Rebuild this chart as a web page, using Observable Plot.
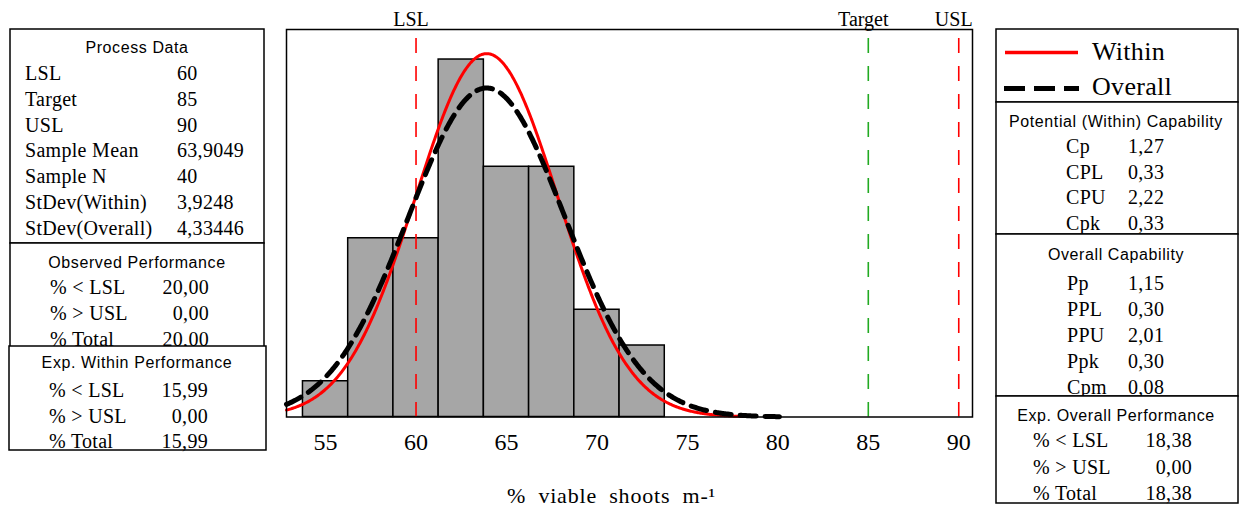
<!DOCTYPE html>
<html><head><meta charset="utf-8">
<script src="https://cdn.jsdelivr.net/npm/d3@7"></script>
<script src="https://cdn.jsdelivr.net/npm/@observablehq/plot@0.6"></script>
<style>
html,body{margin:0;padding:0;background:#fff;}
body{width:1239px;height:506px;overflow:hidden;position:relative;}
#chart{position:absolute;left:0;top:0;}
#panels{position:absolute;left:0;top:0;pointer-events:none;}
</style></head><body>
<div id="chart"></div>
<svg id="panels" width="1239" height="506"></svg>
<script>
// ---------- data ----------
const binEdges = [53.75, 56.25, 58.75, 61.25, 63.75, 66.25, 68.75, 71.25, 73.75];
const binCounts = [1, 5, 5, 10, 7, 7, 3, 2];
const specNames = ["LSL", "Target", "USL"];
const specValues = [60, 85, 90];
const specColors = ["#ff0000", "#22aa22", "#ff0000"];
const xTicks = [55, 60, 65, 70, 75, 80, 85, 90];
const xLabel = "% viable shoots m-\u00B9";

const sampleMean = 63.9049;
const sampleN = 40;
const stdevWithin = 3.9248;
const stdevOverall = 4.33446;

const processLabels = ["LSL", "Target", "USL", "Sample Mean", "Sample N", "StDev(Within)", "StDev(Overall)"];
const processValues = ["60", "85", "90", "63,9049", "40", "3,9248", "4,33446"];
const perfLabels = ["% < LSL", "% > USL", "% Total"];
const observedValues = ["20,00", "0,00", "20,00"];
const expWithinValues = ["15,99", "0,00", "15,99"];
const potentialLabels = ["Cp", "CPL", "CPU", "Cpk"];
const potentialValues = ["1,27", "0,33", "2,22", "0,33"];
const overallLabels = ["Pp", "PPL", "PPU", "Ppk", "Cpm"];
const overallValues = ["1,15", "0,30", "2,01", "0,30", "0,08"];
const expOverallValues = ["18,38", "0,00", "18,38"];
const legendNames = ["Within", "Overall"];

// ---------- derived tables ----------
const bars = binCounts.map((c, i) => ({x1: binEdges[i], x2: binEdges[i + 1], count: c}));
const specs = specNames.map((n, i) => ({name: n, value: specValues[i], color: specColors[i]}));
const binWidth = binEdges[1] - binEdges[0];
function normalCurve(sd, x0, x1) {
  const pts = [];
  for (let x = x0; x <= x1 + 1e-9; x += 0.05) {
    const z = (x - sampleMean) / sd;
    pts.push({x, y: sampleN * binWidth * Math.exp(-0.5 * z * z) / (sd * Math.sqrt(2 * Math.PI))});
  }
  return pts;
}
const xDomain = [52.84, 90.76];
const withinCurve = normalCurve(stdevWithin, xDomain[0], 78.4);
const overallCurve = normalCurve(stdevOverall, xDomain[0], 80.1);

const SERIF = "'Liberation Serif', 'Times New Roman', serif";
const SANS = "'Liberation Sans', Arial, sans-serif";

const chart = Plot.plot({
  width: 1239,
  height: 506,
  marginLeft: 286,
  marginRight: 267,
  marginTop: 29,
  marginBottom: 89.5,
  style: {fontFamily: SERIF, fontSize: "24px", color: "#000", background: "transparent", overflow: "visible"},
  x: {domain: xDomain, ticks: xTicks, tickSize: 0, tickPadding: 16, tickFormat: d => String(d), label: null},
  y: {domain: [0, 10.84], axis: null},
  color: {type: "identity"},
  marks: [
    Plot.rectY(bars, {x1: "x1", x2: "x2", y: "count", fill: "#a6a6a6", stroke: "#000", strokeWidth: 1.5}),
    Plot.ruleX(specs, {x: "value", stroke: "color", strokeWidth: 1.6, strokeDasharray: "15,13", insetTop: 9}),
    Plot.line(withinCurve, {x: "x", y: "y", stroke: "#ff0000", strokeWidth: 3}),
    Plot.line(overallCurve, {x: "x", y: "y", stroke: "#000", strokeWidth: 5, strokeDasharray: "16,9"}),
    Plot.frame({stroke: "#000", strokeWidth: 1.5}),
    Plot.text(specs, {x: "value", text: "name", frameAnchor: "top", lineAnchor: "bottom", dy: -4, dx: -5, fontSize: 20, fill: "#000"}),
    Plot.text([xLabel], {text: d => d, frameAnchor: "bottom", lineAnchor: "middle", dy: 79, dx: -18, fontSize: 22, fill: "#000"})
  ]
});
document.getElementById("chart").appendChild(chart);
d3.select(chart).selectAll("text").filter(function() { return this.textContent === xLabel; })
  .attr("word-spacing", "6px").attr("letter-spacing", "0.8px");

// ---------- side panels ----------
const svg = d3.select("#panels");
function box(x, y, w, h) {
  svg.append("rect").attr("x", x).attr("y", y).attr("width", w).attr("height", h)
    .attr("fill", "#fff").attr("stroke", "#000").attr("stroke-width", 1.5);
}
function title(t, x, y) {
  svg.append("text").attr("x", x).attr("y", y).attr("text-anchor", "middle")
    .attr("font-family", SANS).attr("font-size", 16).attr("letter-spacing", "0.6px").attr("fill", "#000").text(t);
}
function serif(t, x, y, anchor = "start", size = 20) {
  svg.append("text").attr("x", x).attr("y", y).attr("text-anchor", anchor)
    .attr("font-family", SERIF).attr("font-size", size).attr("letter-spacing", "0.3px").attr("fill", "#000").text(t);
}

// Process Data
box(10, 29, 254, 214);
title("Process Data", 137, 53);
processLabels.forEach((l, i) => {
  serif(l, 25, 80 + 25.8 * i);
  serif(processValues[i], 177, 80 + 25.8 * i);
});
// Observed Performance
box(10, 243, 254, 120);
title("Observed Performance", 137, 267.5);
perfLabels.forEach((l, i) => {
  serif(l, 50, 294 + 26 * i);
  serif(observedValues[i], 209, 294 + 26 * i, "end");
});
// Exp. Within Performance
box(9, 346, 257, 104);
title("Exp. Within Performance", 137, 368);
perfLabels.forEach((l, i) => {
  serif(l, 49, 397 + 25.5 * i);
  serif(expWithinValues[i], 208, 397 + 25.5 * i, "end");
});

// Legend
box(996, 29, 242, 73);
svg.append("line").attr("x1", 1005).attr("x2", 1078).attr("y1", 52.5).attr("y2", 52.5)
  .attr("stroke", "#ff0000").attr("stroke-width", 3.5);
svg.append("line").attr("x1", 1004).attr("x2", 1079).attr("y1", 88.5).attr("y2", 88.5)
  .attr("stroke", "#000").attr("stroke-width", 5).attr("stroke-dasharray", "21,9");
serif(legendNames[0], 1092, 60, "start", 26);
serif(legendNames[1], 1092, 95, "start", 26);

// Potential (Within) Capability
box(996, 102, 242, 132);
title("Potential (Within) Capability", 1116, 127);
potentialLabels.forEach((l, i) => {
  serif(l, 1066, 153 + 25.7 * i);
  serif(potentialValues[i], 1128, 153 + 25.7 * i);
});
// Overall Capability
box(996, 234, 242, 162);
title("Overall Capability", 1116, 260);
overallLabels.forEach((l, i) => {
  serif(l, 1067, 290 + 26 * i);
  serif(overallValues[i], 1128, 290 + 26 * i);
});
// Exp. Overall Performance
box(996, 396, 242, 107);
title("Exp. Overall Performance", 1116, 421);
perfLabels.forEach((l, i) => {
  serif(l, 1033, 447 + 26.5 * i);
  serif(expOverallValues[i], 1192, 447 + 26.5 * i, "end");
});
</script>
</body></html>
